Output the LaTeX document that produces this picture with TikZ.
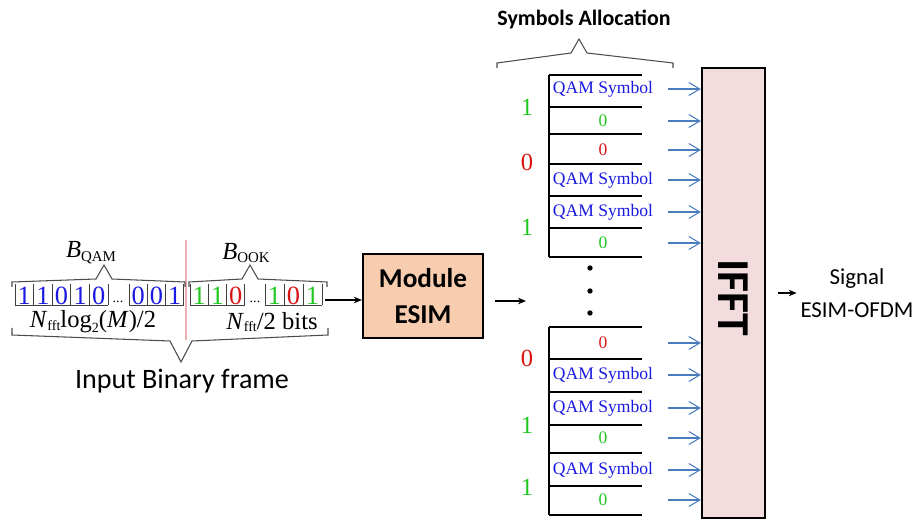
\documentclass[tikz,border=0pt]{standalone}
\usepackage{fontspec}
\setmainfont{Liberation Serif}
\setsansfont{Carlito}
\usetikzlibrary{positioning, arrows.meta}
\definecolor{qamblue}{RGB}{25,25,225}
\definecolor{bitgreen}{RGB}{30,200,30}
\definecolor{bitred}{RGB}{215,20,20}
\definecolor{feedblue}{RGB}{75,125,190}
\definecolor{esimfill}{RGB}{248,204,174}
\definecolor{ifftfill}{RGB}{242,220,221}
\definecolor{splitred}{RGB}{236,175,175}
\tikzset{
  bitnum/.style={font=\fontsize{14}{14}\selectfont, inner sep=0pt},
  cellnum/.style={font=\fontsize{15}{15}\selectfont, inner sep=0pt},
  rowtxt/.style={font=\fontsize{10}{10}\selectfont, inner sep=0pt},
  cellline/.style={line width=0.5pt, black!75},
  bracel/.style={line width=0.6pt, black!70},
  slot/.style={line width=1.2pt},
  feed/.style={line width=0.6pt, feedblue, -{Straight Barb[length=2.2mm, width=2.6mm]}},
  arr/.style={line width=0.6pt, -{Stealth[length=1.6mm, width=1.3mm]}},
  blk/.style={draw, line width=1.3pt, inner sep=0pt, font=\sffamily\bfseries},
  lbl/.style={font=\sffamily\fontsize{16}{16}\selectfont, inner sep=0pt},
}
\newcommand{\subcaps}[1]{\raisebox{-0.15em}{\fontsize{8.5}{8.5}\selectfont #1}}

\begin{document}
\begin{tikzpicture}[x=0.02cm, y=-0.02cm]
\useasboundingbox (0,0) rectangle (914,520);

% ── Trame binaire d'entrée ──────────────────────────────────
\draw[splitred, line width=0.6pt] (186,240) -- (186,340);
\foreach \s/\n/\w in {15/5/18.6, 129/3/18.3, 190/3/18.3, 265/3/19} {
  \foreach \k in {0,...,\n} \draw[cellline] ({\s+\w*\k},284) -- ++(0,21);
  \draw[cellline] (\s,305) -- ({\s+\w*\n},305);
}
\foreach \x/\b/\c [count=\i] in {24.3/1/qamblue, 42.9/1/qamblue, 61.5/0/qamblue,
    80.1/1/qamblue, 98.7/0/qamblue, 138.2/0/qamblue, 156.5/0/qamblue, 174.8/1/qamblue,
    199.2/1/bitgreen, 217.5/1/bitgreen, 235.8/0/bitred,
    274.5/1/bitgreen, 293.5/0/bitred, 312.5/1/bitgreen}
  \node[cellnum, text=\c] (d\i) at (\x,296) {\b};
\node[font=\fontsize{8}{8}\selectfont, inner sep=0pt] (gapq) at (118,302) {...};
\node[font=\fontsize{8}{8}\selectfont, inner sep=0pt] (gapo) at (255,302) {...};

\draw[bracel] (12,287) -- (12,282) -- (96,279) -- (104,265) -- (112,279) -- (185,282) -- (185,287);
\draw[bracel] (189,287) -- (189,282) -- (242,279) -- (250,265) -- (258,279) -- (327,282) -- (327,287);
\draw[bracel] (12,328) -- (12,335) -- (170,341) -- (181,362) -- (192,341) -- (328,335) -- (328,328);

\node[font=\fontsize{14}{14}\selectfont, inner sep=0pt] (bqam) at (91,253) {\textit{B}\subcaps{QAM}};
\node[font=\fontsize{14}{14}\selectfont, inner sep=0pt] (book) at (246,253) {\textit{B}\subcaps{OOK}};
\node[font=\fontsize{14}{14}\selectfont, inner sep=0pt] (nqam) at (93,322)
  {\textit{N}\raisebox{-0.1em}{\fontsize{8}{8}\selectfont fft}log\raisebox{-0.2em}{\fontsize{8}{8}\selectfont 2}(\textit{M})/2};
\node[font=\fontsize{14}{14}\selectfont, inner sep=0pt] (nook) at (272,322)
  {\textit{N}\raisebox{-0.1em}{\fontsize{8}{8}\selectfont fft}/2 bits};
\node[lbl] (frame) at (182,381) {Input Binary frame};
\coordinate (frameout) at (325,300);

% ── Module ESIM ─────────────────────────────────────────────
\node[blk, fill=esimfill, minimum width=2.4cm, minimum height=1.68cm, align=center,
  font=\sffamily\bfseries\fontsize{15.5}{20}\selectfont] (esim) at (423,296) {Module\\ESIM};
\coordinate (alloc) at (526,301);

% ── Allocation des symboles ─────────────────────────────────
\node[font=\sffamily\bfseries\fontsize{12.5}{12.5}\selectfont, inner sep=0pt] (salloc) at (584,20) {Symbols Allocation};
\draw[bracel] (497,68) -- (497,63) -- (571,53) -- (579,39) -- (587,53) -- (673,63) -- (673,68);

\foreach \y in {75,107,134,164,196,228,257, 327,359,392,425,453,486,515}
  \draw[slot] (549,\y) -- (642,\y);
\draw[slot] (549,75) -- (549,257);
\draw[slot] (549,327) -- (549,515);

\foreach \y/\t/\c [count=\i] in {89/QAM Symbol/qamblue, 121/0/bitgreen, 150/0/bitred,
    180/QAM Symbol/qamblue, 212/QAM Symbol/qamblue, 243/0/bitgreen,
    343/0/bitred, 375/QAM Symbol/qamblue, 408/QAM Symbol/qamblue,
    438/0/bitgreen, 470/QAM Symbol/qamblue, 500/0/bitgreen} {
  \node[rowtxt, text=\c] (r\i) at (603,\y) {\t};
  \coordinate (f\i) at (668,\y);
}
\foreach \y/\b/\c [count=\i] in {107/1/bitgreen, 162/0/bitred, 227/1/bitgreen,
    358/0/bitred, 425/1/bitgreen, 487/1/bitgreen}
  \node[bitnum, text=\c] (g\i) at (527,\y) {\b};
\foreach \y in {268,291,313} \fill (590,\y) circle (2.7);

% ── IFFT ────────────────────────────────────────────────────
\node[blk, fill=ifftfill, minimum width=1.26cm, minimum height=9cm] (ifft) at (733.5,293) {};
\node[font=\sffamily\bfseries\fontsize{26}{26}\selectfont, rotate=-90, inner sep=0pt]
  (iffttxt) at (733,298) {IFFT};
\node[font=\sffamily\fontsize{13}{19}\selectfont, align=center, inner sep=0pt]
  (signal) at (857,293) {Signal\\ESIM-OFDM};

% ── Liaisons ────────────────────────────────────────────────
\draw[arr] (frameout) -- (frameout -| esim.west);
\draw[arr, shorten <=10\pgflinewidth] (esim.east |- alloc) -- (alloc);
\draw[arr, shorten <=11\pgflinewidth] (ifft.east |- signal.west) -- ([xshift=-2pt]signal.west);
\foreach \i in {1,...,12} \draw[feed] (f\i) -- (f\i -| ifft.west);

\end{tikzpicture}
\end{document}
